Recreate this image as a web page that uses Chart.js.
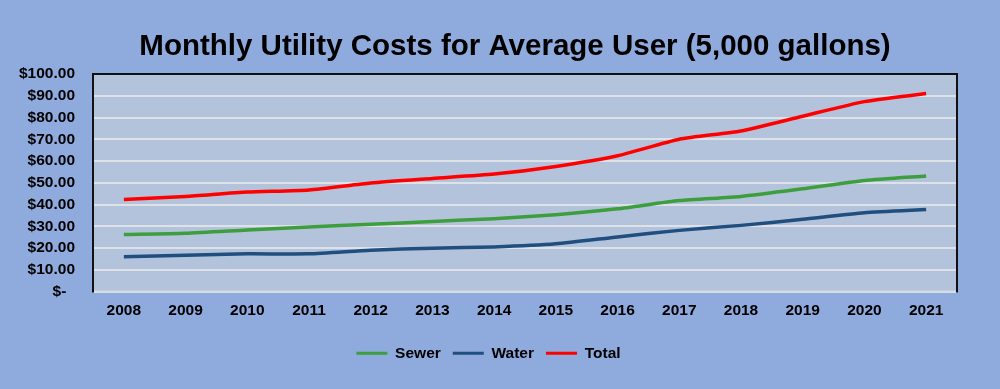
<!DOCTYPE html>
<html>
<head>
<meta charset="utf-8">
<script src="https://cdn.jsdelivr.net/npm/chart.js@4"></script>
<style>
  html, body { margin: 0; padding: 0; background: #8faadc; }
  #wrap { width: 1000px; height: 389px; }
</style>
</head>
<body>
<div id="wrap"><canvas id="c" width="1000" height="389"></canvas></div>
<script>
const titleText = 'Monthly Utility Costs for Average User (5,000 gallons)';
const years = ['2008','2009','2010','2011','2012','2013','2014','2015','2016','2017','2018','2019','2020','2021'];
const sewer = [26.2, 26.8, 28.3, 29.7, 30.9, 32.2, 33.5, 35.3, 38.0, 41.8, 43.7, 47.2, 51.0, 53.1];
const water = [16.0, 16.7, 17.3, 17.3, 19.0, 19.9, 20.5, 21.9, 25.1, 28.1, 30.4, 33.2, 36.2, 37.7];
const total = [42.3, 43.7, 45.7, 46.7, 49.9, 52.0, 54.0, 57.5, 62.4, 70.0, 73.8, 80.6, 87.3, 91.0];
const seriesNames = ['Sewer', 'Water', 'Total'];
const seriesColors = ['#3c9e3c', '#1f4e7f', '#ff0000'];

const FONT = "'Liberation Sans', Arial, sans-serif";

const bgPlugin = {
  id: 'bg',
  afterLayout(chart) {
    if (chart.legend) {
      chart.legend.left += 10;
      chart.legend.right += 10;
    }
  },
  beforeDraw(chart) {
    const ctx = chart.ctx, a = chart.chartArea;
    ctx.save();
    ctx.fillStyle = '#8faadc';
    ctx.fillRect(0, 0, chart.width, chart.height);
    ctx.fillStyle = '#b4c3dc';
    ctx.fillRect(a.left, a.top, a.right - a.left, a.bottom - a.top);
    ctx.restore();
  },
  beforeDatasetsDraw(chart) {
    const ctx = chart.ctx, a = chart.chartArea;
    ctx.save();
    ctx.strokeStyle = '#d5d9e0';
    ctx.lineWidth = 2;
    ctx.beginPath();
    ctx.moveTo(a.left, a.bottom);
    ctx.lineTo(a.right, a.bottom);
    ctx.stroke();
    ctx.strokeStyle = '#111111';
    ctx.lineWidth = 2;
    ctx.beginPath();
    ctx.moveTo(a.left, a.bottom + 1);
    ctx.lineTo(a.left, a.top);
    ctx.lineTo(a.right, a.top);
    ctx.lineTo(a.right, a.bottom + 1);
    ctx.stroke();
    ctx.restore();
  },
  afterDraw(chart) {
    const ctx = chart.ctx;
    ctx.save();
    ctx.fillStyle = '#000';
    ctx.font = "bold 29.5px " + FONT;
    ctx.textAlign = 'center';
    ctx.textBaseline = 'middle';
    ctx.fillText(titleText, 515, 47);
    ctx.restore();
  }
};

new Chart(document.getElementById('c'), {
  type: 'line',
  data: {
    labels: years,
    datasets: [sewer, water, total].map((d, i) => ({
      label: seriesNames[i],
      data: d,
      borderColor: seriesColors[i],
      backgroundColor: seriesColors[i],
      borderWidth: 3.5,
      pointRadius: 0,
      tension: 0.2,
      fill: false
    }))
  },
  options: {
    responsive: false,
    animation: false,
    devicePixelRatio: 1,
    layout: { padding: { left: 0, right: 43, top: 74, bottom: 18 } },
    plugins: {
      title: { display: false },
      legend: {
        position: 'bottom',
        labels: {
          color: '#000',
          font: { family: FONT, size: 15.5, weight: 'bold' },
          boxWidth: 31,
          boxHeight: 3,
          padding: 12,
          generateLabels(chart) {
            return chart.data.datasets.map((ds, i) => ({
              text: ds.label,
              fillStyle: ds.borderColor,
              strokeStyle: ds.borderColor,
              lineWidth: 0,
              hidden: false,
              datasetIndex: i,
              fontColor: '#000'
            }));
          }
        }
      },
      tooltip: { enabled: false }
    },
    scales: {
      x: {
        offset: true,
        grid: { display: false, drawTicks: false },
        border: { display: false },
        ticks: {
          color: '#000',
          padding: 10,
          maxRotation: 0,
          font: { family: FONT, size: 15.5, weight: 'bold' }
        },
        afterFit(scale) { scale.height = 42; }
      },
      y: {
        min: 0,
        max: 100,
        grid: { color: '#dde1e8', lineWidth: 2, drawTicks: false },
        border: { display: false },
        ticks: {
          stepSize: 10,
          color: '#000',
          padding: 18,
          font: { family: FONT, size: 15.5, weight: 'bold' },
          callback(v) { return v === 0 ? '$-  ' : '$' + v.toFixed(2); }
        },
        afterFit(scale) { scale.width = 93; }
      }
    }
  },
  plugins: [bgPlugin]
});
</script>
</body>
</html>
